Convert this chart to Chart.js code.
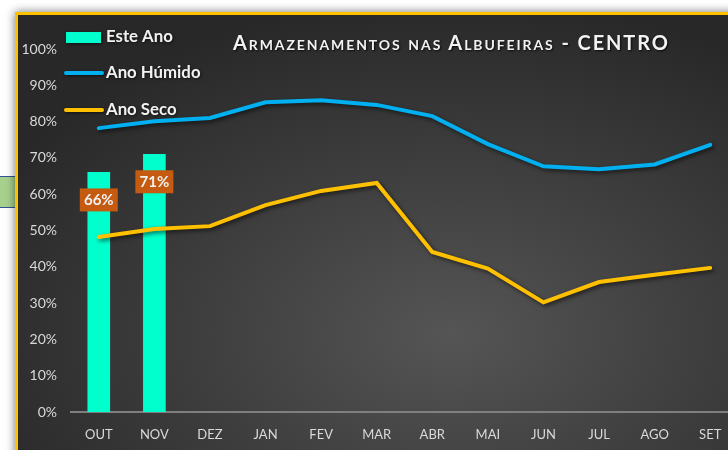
<!DOCTYPE html>
<html>
<head>
<meta charset="utf-8">
<script src="https://cdn.jsdelivr.net/npm/chart.js@4/dist/chart.umd.min.js"></script>
<style>
  html, body { margin: 0; padding: 0; width: 728px; height: 450px; overflow: hidden; background: #fff; }
  #cell { position: absolute; left: 0; top: 176px; width: 16px; height: 30px; background: #a9d18e;
          border-top: 1px solid #2f5597; border-bottom: 1px solid #2f5597; }
  #frame { position: absolute; left: 15px; top: 12px; width: 760px; height: 470px;
           border-top: 3px solid #ffc000; border-left: 3px solid #ffc000;
           background: radial-gradient(ellipse 75% 80% at 57% 68%, #555555 0%, #3e3e3e 45%, #282828 90%);
           box-shadow: 0 0 9px rgba(0,0,0,0.55); }
  #title { position: absolute; left: 233px; top: 30px; color: #f2f2f2; font: bold 20px "Lato", sans-serif;
           font-variant: small-caps; letter-spacing: 1.9px; white-space: nowrap;
           text-shadow: 1px 1px 2px rgba(0,0,0,0.8); }
  #c { position: absolute; left: 0; top: 0; }
</style>
</head>
<body>
<div id="cell"></div>
<div id="frame"></div>
<canvas id="c" width="750" height="450"></canvas>
<div id="title">Armazenamentos nas Albufeiras - CENTRO</div>
<script>
// --- data ---
const months = ['OUT', 'NOV', 'DEZ', 'JAN', 'FEV', 'MAR', 'ABR', 'MAI', 'JUN', 'JUL', 'AGO', 'SET'];
const esteAno = [0.66, 0.71, null, null, null, null, null, null, null, null, null, null];
const anoHumido = [0.782, 0.801, 0.810, 0.853, 0.859, 0.846, 0.815, 0.738, 0.677, 0.669, 0.682, 0.736];
const anoSeco = [0.482, 0.504, 0.512, 0.570, 0.609, 0.631, 0.441, 0.395, 0.302, 0.358, 0.378, 0.397];
const legendNames = ['Este Ano', 'Ano Húmido', 'Ano Seco'];

const COL_BAR = '#00ffcc';
const COL_WET = '#00b0f0';
const COL_DRY = '#ffc000';
const COL_LABEL = '#c55a11';

// drop shadow under the lines
const shadowPlugin = {
    id: 'shadow',
    beforeDatasetDraw(chart, args) {
        const ctx = chart.ctx;
        ctx.save();
        if (chart.data.datasets[args.index].type === 'line') {
            ctx.shadowColor = 'rgba(0,0,0,0.6)';
            ctx.shadowBlur = 4;
            ctx.shadowOffsetX = 2;
            ctx.shadowOffsetY = 2;
        }
    },
    afterDatasetDraw(chart) {
        chart.ctx.restore();
    }
};

// orange value boxes on the bars
const barLabels = {
    id: 'barLabels',
    afterDatasetsDraw(chart) {
        const ctx = chart.ctx;
        const meta = chart.getDatasetMeta(0);
        ctx.save();
        ctx.font = 'bold 15px "Lato", sans-serif';
        ctx.textAlign = 'center';
        ctx.textBaseline = 'middle';
        meta.data.forEach((bar, i) => {
            const v = esteAno[i];
            if (v == null) return;
            const txt = Math.round(v * 100) + '%';
            const cy = bar.y + 27;
            ctx.fillStyle = COL_LABEL;
            ctx.fillRect(bar.x - 19, cy - 11, 38, 23);
            ctx.fillStyle = '#f2f2f2';
            ctx.fillText(txt, bar.x, cy + 1);
        });
        ctx.restore();
    }
};

// legend in the upper left corner
const cornerLegend = {
    id: 'cornerLegend',
    afterDraw(chart) {
        const ctx = chart.ctx;
        const rows = [37, 73, 110];
        ctx.save();
        ctx.shadowColor = 'rgba(0,0,0,0.6)';
        ctx.shadowBlur = 3;
        ctx.shadowOffsetX = 1;
        ctx.shadowOffsetY = 1;
        ctx.fillStyle = COL_BAR;
        ctx.fillRect(66, rows[0] - 5, 35, 11);
        ctx.lineCap = 'round';
        ctx.lineWidth = 4;
        ctx.strokeStyle = COL_WET;
        ctx.beginPath(); ctx.moveTo(66, rows[1]); ctx.lineTo(102, rows[1]); ctx.stroke();
        ctx.strokeStyle = COL_DRY;
        ctx.beginPath(); ctx.moveTo(66, rows[2]); ctx.lineTo(102, rows[2]); ctx.stroke();
        ctx.font = 'bold 16.8px "Lato", sans-serif';
        ctx.fillStyle = '#f2f2f2';
        ctx.textBaseline = 'middle';
        legendNames.forEach((name, i) => ctx.fillText(name, 106, rows[i]));
        ctx.restore();
    }
};

new Chart(document.getElementById('c'), {
    data: {
        labels: months,
        datasets: [
            { type: 'bar', label: legendNames[0], data: esteAno, backgroundColor: COL_BAR,
              barThickness: 22, order: 3 },
            { type: 'line', label: legendNames[1], data: anoHumido, borderColor: COL_WET,
              borderWidth: 4, pointRadius: 0, tension: 0, borderCapStyle: 'round', order: 2 },
            { type: 'line', label: legendNames[2], data: anoSeco, borderColor: COL_DRY,
              borderWidth: 4, pointRadius: 0, tension: 0, borderCapStyle: 'round', order: 1 }
        ]
    },
    options: {
        responsive: false,
        animation: false,
        layout: { padding: { top: 49, right: 12, left: 0, bottom: 0 } },
        plugins: { legend: { display: false }, tooltip: { enabled: false } },
        scales: {
            x: {
                offset: true,
                grid: { display: false, drawTicks: false },
                border: { display: true, color: '#7f7f7f', width: 2 },
                ticks: { color: '#d9d9d9', font: { family: 'Lato', size: 13 }, padding: 15 },
                afterFit(scale) { scale.height = 38; }
            },
            y: {
                min: 0, max: 1,
                grid: { display: false, drawTicks: false },
                border: { display: false },
                ticks: { stepSize: 0.1, color: '#d9d9d9', padding: 14,
                         font: { family: 'Lato', size: 14 },
                         callback: v => Math.round(v * 100) + '%' },
                afterFit(scale) { scale.width = 71; }
            }
        }
    },
    plugins: [shadowPlugin, barLabels, cornerLegend]
});
</script>
</body>
</html>
